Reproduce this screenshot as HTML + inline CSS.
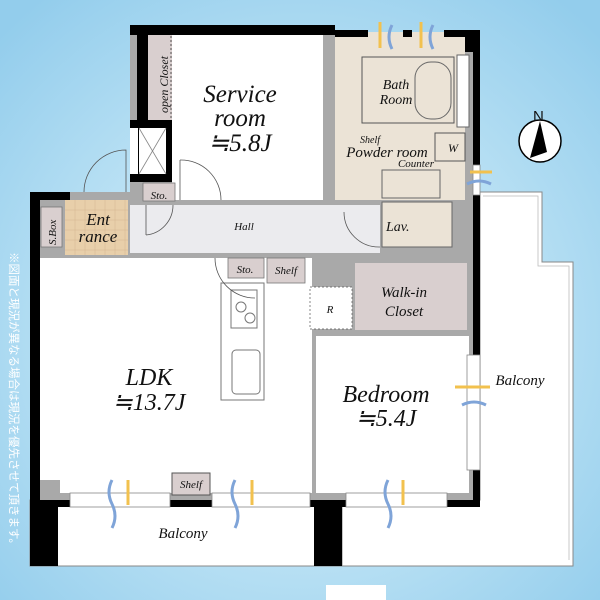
<!DOCTYPE html>
<html><head><meta charset="utf-8"><style>
html,body{margin:0;padding:0;width:600px;height:600px;overflow:hidden}
svg{display:block}
text{font-family:"Liberation Serif",serif;font-style:italic;fill:#111}
</style></head><body>
<svg width="600" height="600" viewBox="0 0 600 600" xmlns="http://www.w3.org/2000/svg">
<defs>
<radialGradient id="bg" cx="0.5" cy="0.55" r="0.7">
<stop offset="0" stop-color="#e6f4fb"/><stop offset="0.6" stop-color="#b4def3"/><stop offset="1" stop-color="#93cdec"/>
</radialGradient>
</defs>
<rect width="600" height="600" fill="url(#bg)"/>
<rect x="326" y="585" width="60" height="15" fill="#fff"/>
<path d="M480 192 H542 V262 H573 V566 H342 V500 H480 Z" fill="#fff" stroke="#888" stroke-width="1"/>
<path d="M483 196 H538 V266 H569 V560" fill="none" stroke="#bbb" stroke-width="0.8"/>
<rect x="30" y="500" width="312" height="66" fill="#fff" stroke="#888"/>
<rect x="30" y="500" width="28" height="66" fill="#000"/>
<rect x="314" y="500" width="28" height="66" fill="#000"/>
<path d="M130 25 H335 V32 H445 V32 H480 V507 H30 V192 H130 Z" fill="#a9a9a9"/>
<path d="M130 25 H335 V32 H480 V190 H473 V38 H445 V35 H175 V120 H137 V35 H130 Z" fill="#000"/>
<rect x="335" y="30" width="33" height="7" fill="#000"/>
<rect x="403" y="30" width="9" height="20" fill="#000"/>
<rect x="444" y="30" width="36" height="22" fill="#000"/>
<rect x="473" y="195" width="7" height="160" fill="#000"/>
<rect x="473" y="470" width="7" height="37" fill="#000"/>
<rect x="30" y="192" width="10" height="315" fill="#000"/>
<rect x="30" y="192" width="40" height="8" fill="#000"/>
<rect x="30" y="500" width="40" height="7" fill="#000"/>
<rect x="170" y="500" width="42" height="7" fill="#000"/>
<rect x="310" y="500" width="36" height="7" fill="#000"/>
<rect x="447" y="500" width="33" height="7" fill="#000"/>
<rect x="130" y="120" width="45" height="62" fill="#000"/>
<rect x="139" y="128" width="27" height="46" fill="#fff"/>
<path d="M139 128 L166 174 M166 128 L139 174" stroke="#888" stroke-width="0.8"/>
<rect x="130" y="128" width="8" height="46" fill="#fff"/>
<rect x="172" y="35" width="151" height="165" fill="#fff"/>
<rect x="148" y="35" width="24" height="85" fill="#d9cfcf"/>
<line x1="171" y1="36" x2="171" y2="119" stroke="#333" stroke-dasharray="2 2" stroke-width="0.8"/>
<rect x="143" y="183" width="32" height="18" fill="#d9cfcf" stroke="#777" stroke-width="0.8"/>
<rect x="130" y="205" width="250" height="48" fill="#ebebee"/>
<rect x="65" y="200" width="63" height="55" fill="#e8cfaa"/>
<g stroke="#d4b690" stroke-width="0.5">
<path d="M65 210H128M65 220H128M65 230H128M65 240H128M65 250H128M75 200V255M85 200V255M95 200V255M105 200V255M115 200V255M125 200V255"/>
</g>
<rect x="41" y="207" width="21" height="40" fill="#d9cfcf" stroke="#777" stroke-width="0.8"/>
<rect x="40" y="258" width="272" height="235" fill="#fff"/>
<rect x="40" y="480" width="20" height="20" fill="#a9a9a9"/>
<rect x="316" y="336" width="153" height="157" fill="#fff"/>
<rect x="355" y="263" width="112" height="67" fill="#d9cfcf"/>
<rect x="310" y="287" width="42" height="42" fill="#fff" stroke="#555" stroke-dasharray="2 2" stroke-width="0.7"/>
<rect x="335" y="37" width="130" height="163" fill="#ebe3d6"/>
<rect x="368" y="32" width="35" height="22" fill="#ebe3d6"/>
<rect x="412" y="32" width="32" height="22" fill="#ebe3d6"/>
<rect x="362" y="57" width="92" height="66" fill="#ebe3d6" stroke="#555"/>
<rect x="415" y="62" width="36" height="57" rx="16" fill="none" stroke="#666"/>
<rect x="457" y="55" width="12" height="72" fill="#fff" stroke="#666"/>
<rect x="435" y="133" width="30" height="28" fill="#ebe3d6" stroke="#555"/>
<rect x="382" y="170" width="58" height="28" fill="#ebe3d6" stroke="#666"/>
<rect x="382" y="202" width="70" height="45" fill="#ebe3d6" stroke="#666"/>
<rect x="228" y="258" width="36" height="20" fill="#d9cfcf" stroke="#777" stroke-width="0.8"/>
<rect x="267" y="258" width="38" height="25" fill="#d9cfcf" stroke="#777" stroke-width="0.8"/>
<rect x="221" y="283" width="43" height="117" fill="#fff" stroke="#777"/>
<rect x="231" y="290" width="26" height="38" fill="#fff" stroke="#777"/>
<circle cx="241" cy="307" r="5" fill="none" stroke="#777"/><circle cx="250" cy="318" r="5" fill="none" stroke="#777"/>
<rect x="232" y="350" width="28" height="44" rx="4" fill="#fff" stroke="#777"/>
<rect x="172" y="473" width="38" height="22" fill="#d9cfcf" stroke="#555"/>
<g fill="#fff" stroke="#888" stroke-width="0.8">
<rect x="70" y="493" width="100" height="14"/><rect x="212" y="493" width="98" height="14"/><rect x="346" y="493" width="101" height="14"/>
<rect x="467" y="355" width="13" height="115"/>
<rect x="473" y="165" width="7" height="30"/>
</g>
<g fill="none" stroke="#555" stroke-width="0.8">
<path d="M126 192 V150 A42 42 0 0 0 84 192"/>
<path d="M180 160 A40 40 0 0 1 221 200 M180 160 V200"/>
<path d="M146 235 A30 30 0 0 0 173 205 M146 205 V235"/>
<path d="M215 258 A40 40 0 0 0 255 298"/>
<path d="M344 212 A35 35 0 0 0 380 247"/>
</g>
<g stroke-width="3" fill="none">
<path d="M128 505 V480 M252 505 V480 M403 505 V480 M380 48 V22 M421 48 V22" stroke="#f2c14e"/>
<path d="M112 480 q-6 12 0 24 q6 12 0 24 M235 480 q-6 12 0 24 q6 12 0 24 M388 480 q-6 12 0 24 q6 12 0 24 M392 25 q-6 12 0 24 M433 25 q-6 12 0 24" stroke="#7fa4d8"/>
<path d="M455 387 H490 M470 172 H492" stroke="#f2c14e"/>
<path d="M462 405 q12 -6 24 0 M467 184 q12 -6 24 0" stroke="#7fa4d8"/>
</g>
<circle cx="540" cy="141" r="21" fill="#fff" stroke="#000" stroke-width="1.5"/>
<path d="M540 121 L530 158 L547 152 Z" fill="#000"/>
<text x="533" y="121" style="font-style:normal;font-family:'Liberation Sans',sans-serif" font-size="15">N</text>
<text x="240" y="102" font-size="25" text-anchor="middle">Service</text>
<text x="240" y="126" font-size="25" text-anchor="middle">room</text>
<text x="240" y="151" font-size="25" text-anchor="middle">≒5.8J</text>
<text transform="translate(168 113) rotate(-90)" font-size="12">open Closet</text>
<text x="159" y="199" font-size="11" text-anchor="middle">Sto.</text>
<text transform="translate(56 245) rotate(-90)" font-size="11">S.Box</text>
<text x="98" y="225" font-size="17" text-anchor="middle">Ent</text>
<text x="98" y="242" font-size="17" text-anchor="middle">rance</text>
<text x="244" y="230" font-size="11" text-anchor="middle">Hall</text>
<text x="245" y="273" font-size="11" text-anchor="middle">Sto.</text>
<text x="286" y="274" font-size="11" text-anchor="middle">Shelf</text>
<text x="396" y="89" font-size="14" text-anchor="middle">Bath</text>
<text x="396" y="104" font-size="14" text-anchor="middle">Room</text>
<text x="370" y="143" font-size="10" text-anchor="middle">Shelf</text>
<text x="387" y="157" font-size="15" text-anchor="middle">Powder room</text>
<text x="416" y="167" font-size="11" text-anchor="middle">Counter</text>
<text x="448" y="152" font-size="12">W</text>
<text x="386" y="231" font-size="14">Lav.</text>
<text x="404" y="297" font-size="15" text-anchor="middle">Walk-in</text>
<text x="404" y="316" font-size="15" text-anchor="middle">Closet</text>
<text x="330" y="313" font-size="11" text-anchor="middle">R</text>
<text x="149" y="385" font-size="24" text-anchor="middle">LDK</text>
<text x="149" y="410" font-size="24" text-anchor="middle">≒13.7J</text>
<text x="386" y="402" font-size="24" text-anchor="middle">Bedroom</text>
<text x="386" y="426" font-size="24" text-anchor="middle">≒5.4J</text>
<text x="191" y="488" font-size="11" text-anchor="middle">Shelf</text>
<text x="183" y="538" font-size="15" text-anchor="middle">Balcony</text>
<text x="520" y="385" font-size="15" text-anchor="middle">Balcony</text>
<text transform="translate(10 252) rotate(90)" font-size="11.5" style="font-style:normal;font-family:'Liberation Sans','Noto Sans CJK JP',sans-serif;fill:#fff">※図面と現況が異なる場合は現況を優先させて頂きます。</text>
</svg>
</body></html>
